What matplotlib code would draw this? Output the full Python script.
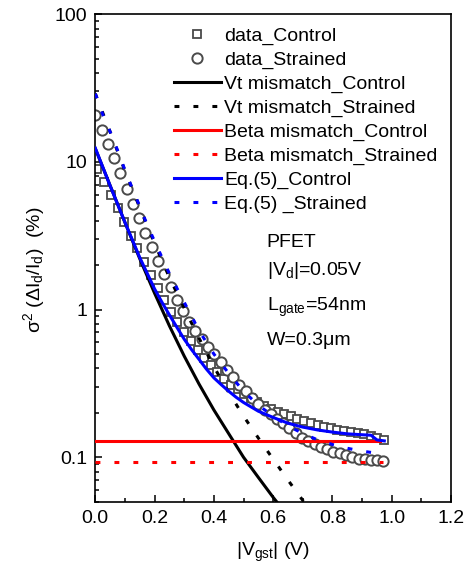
import matplotlib
matplotlib.use("Agg")
import matplotlib.pyplot as plt
from matplotlib.ticker import FixedLocator, FixedFormatter, LogLocator, NullFormatter, MultipleLocator

plt.rcParams['font.family'] = ['Liberation Sans', 'DejaVu Sans']
plt.rcParams['mathtext.fontset'] = 'custom'
plt.rcParams['mathtext.rm'] = 'Liberation Sans'
plt.rcParams['mathtext.it'] = 'Liberation Sans'

# ---------------- data ----------------
ctrl_v = [0.007, 0.030, 0.052, 0.075, 0.097, 0.120, 0.142, 0.165, 0.187, 0.210,
          0.232, 0.255, 0.277, 0.300, 0.322, 0.345, 0.367, 0.390, 0.412, 0.435,
          0.457, 0.480, 0.502, 0.525, 0.547, 0.570, 0.592, 0.615, 0.637, 0.660,
          0.682, 0.705, 0.727, 0.750, 0.772, 0.795, 0.817, 0.840, 0.862, 0.885,
          0.907, 0.930, 0.952, 0.975]
ctrl_data = [9.0, 7.3, 6.0, 4.9, 3.9, 3.15, 2.6, 2.1, 1.72, 1.40,
             1.17, 0.96, 0.82, 0.70, 0.61, 0.53, 0.47, 0.42, 0.375, 0.34,
             0.31, 0.29, 0.27, 0.25, 0.235, 0.222, 0.212, 0.203, 0.196, 0.189,
             0.182, 0.175, 0.170, 0.165, 0.161, 0.157, 0.154, 0.151, 0.149, 0.147,
             0.144, 0.140, 0.135, 0.131]

str_v = [0.000, 0.021, 0.042, 0.063, 0.084, 0.106, 0.127, 0.148, 0.169, 0.190,
         0.211, 0.232, 0.254, 0.275, 0.296, 0.317, 0.338, 0.359, 0.380, 0.402,
         0.423, 0.444, 0.465, 0.486, 0.507, 0.528, 0.550, 0.571, 0.592, 0.613,
         0.634, 0.655, 0.676, 0.698, 0.719, 0.740, 0.761, 0.782, 0.803, 0.824,
         0.846, 0.867, 0.888, 0.909, 0.930, 0.951, 0.972]
str_data = [20.8, 16.5, 13.2, 10.7, 8.4, 6.6, 5.2, 4.15, 3.3, 2.65,
            2.13, 1.75, 1.43, 1.17, 0.98, 0.83, 0.72, 0.63, 0.56, 0.50,
            0.44, 0.39, 0.35, 0.31, 0.28, 0.25, 0.23, 0.21, 0.195, 0.182,
            0.17, 0.158, 0.146, 0.135, 0.128, 0.122, 0.117, 0.113, 0.109, 0.106,
            0.103, 0.100, 0.098, 0.097, 0.096, 0.096, 0.094]

vt_ctrl_v = [0, 0.05, 0.1, 0.15, 0.2, 0.25, 0.3, 0.35, 0.4, 0.45, 0.5, 0.55, 0.6, 0.65]
vt_ctrl = [12.3, 6.92, 3.89, 2.21, 1.29, 0.776, 0.484, 0.313, 0.209, 0.1445, 0.100, 0.073, 0.0535, 0.040]

vt_str_v = [0, 0.05, 0.1, 0.15, 0.2, 0.25, 0.3, 0.35, 0.4, 0.45, 0.5, 0.55, 0.6, 0.65, 0.7, 0.72]
vt_str = [29, 16, 8.7, 4.9, 2.8, 1.65, 1.02, 0.64, 0.41, 0.275, 0.19, 0.135, 0.097, 0.07, 0.051, 0.045]

beta_ctrl_v = [0.0, 0.96]
beta_ctrl = [0.128, 0.128]
beta_str_v = [0.0, 0.97]
beta_str = [0.0925, 0.0925]

eq_ctrl_v = [0, 0.05, 0.1, 0.15, 0.2, 0.225, 0.25, 0.275, 0.3, 0.325, 0.35, 0.375, 0.4,
             0.425, 0.45, 0.475, 0.5, 0.55, 0.6, 0.65, 0.7, 0.75, 0.8, 0.85, 0.9,
             0.93, 0.95, 0.975]
eq_ctrl = [12.4, 6.9, 3.9, 2.25, 1.38, 1.12, 0.92, 0.76, 0.63, 0.535, 0.46, 0.395, 0.345,
           0.31, 0.28, 0.255, 0.235, 0.205, 0.186, 0.17, 0.16, 0.153, 0.148, 0.144, 0.142,
           0.141, 0.131, 0.129]

eq_str_v = [0, 0.025, 0.05, 0.075, 0.1, 0.125, 0.15, 0.175, 0.2, 0.25, 0.3, 0.35, 0.4,
            0.45, 0.5, 0.55, 0.6, 0.65, 0.7, 0.75, 0.8, 0.85, 0.9, 0.97]
eq_str = [29, 21.0, 16.0, 12.0, 8.8, 6.6, 5.0, 3.75, 2.9, 1.75, 1.12, 0.72, 0.50,
          0.37, 0.28, 0.225, 0.19, 0.163, 0.145, 0.131, 0.122, 0.115, 0.110, 0.105]

labels = ['data_Control', 'data_Strained', 'Vt mismatch_Control', 'Vt mismatch_Strained',
          'Beta mismatch_Control', 'Beta mismatch_Strained', 'Eq.(5)_Control', 'Eq.(5) _Strained']

xticks = [0.0, 0.2, 0.4, 0.6, 0.8, 1.0, 1.2]
xticklabels = ['0.0', '0.2', '0.4', '0.6', '0.8', '1.0', '1.2']
yticks = [0.1, 1, 10, 100]
yticklabels = ['0.1', '1', '10', '100']

# ---------------- figure ----------------
fig = plt.figure(figsize=(4.77, 5.71), dpi=100)
ax = fig.add_axes([0.1998, 0.1214, 0.7457, 0.8536])

mk_col = '#4a4a4a'
dot = (0, (1.6, 4.6))
lw = 2.2

ax.plot(ctrl_v, ctrl_data, linestyle='none', marker='s', ms=6.4, mfc='white',
        mec=mk_col, mew=1.3, label=labels[0], zorder=2)
ax.plot(str_v, str_data, linestyle='none', marker='o', ms=7.4, mfc='white',
        mec=mk_col, mew=1.4, label=labels[1], zorder=2.1)
ax.plot(vt_ctrl_v, vt_ctrl, color='black', lw=lw, label=labels[2], zorder=3)
ax.plot(vt_str_v, vt_str, color='black', lw=lw, linestyle=dot, label=labels[3], zorder=3)
ax.plot(beta_ctrl_v, beta_ctrl, color='#ff0000', lw=lw, label=labels[4], zorder=3)
ax.plot(beta_str_v, beta_str, color='#ff0000', lw=lw, linestyle=dot, label=labels[5], zorder=3)
ax.plot(eq_ctrl_v, eq_ctrl, color='#0000ff', lw=lw, label=labels[6], zorder=3)
ax.plot(eq_str_v, eq_str, color='#0000ff', lw=lw, linestyle=dot, label=labels[7], zorder=3)

ax.set_yscale('log')
ax.set_xlim(0, 1.2)
ax.set_ylim(0.05, 100)

ax.xaxis.set_major_locator(FixedLocator(xticks))
ax.xaxis.set_major_formatter(FixedFormatter(xticklabels))
ax.xaxis.set_minor_locator(MultipleLocator(0.1))
ax.yaxis.set_major_locator(FixedLocator(yticks))
ax.yaxis.set_major_formatter(FixedFormatter(yticklabels))
ax.yaxis.set_minor_locator(LogLocator(base=10, subs=[2, 3, 4, 5, 6, 7, 8, 9], numticks=20))
ax.yaxis.set_minor_formatter(NullFormatter())

ax.tick_params(which='both', direction='in', top=False, right=False, width=1.1,
               labelsize=14)
ax.tick_params(which='major', length=5)
ax.tick_params(which='minor', length=2.8)
ax.tick_params(axis='y', pad=6)
ax.tick_params(axis='x', pad=6)
for s in ax.spines.values():
    s.set_linewidth(1.2)

ax.set_xlabel(r'|V$_\mathregular{gst}$| (V)', fontsize=14)
ax.xaxis.set_label_coords(0.5, -0.08)
ax.set_ylabel(r'σ$^\mathregular{2}$ (ΔI$_\mathregular{d}$/I$_\mathregular{d}$)  (%)', fontsize=14)
ax.yaxis.set_label_coords(-0.135, 0.475)

leg = ax.legend(loc='upper left', bbox_to_anchor=(0.221, 0.973), frameon=False,
                fontsize=14, handlelength=2.4, handletextpad=0.2, labelspacing=0.32,
                borderpad=0, borderaxespad=0, numpoints=1)

tx = 0.482
ax.text(tx, 0.5226, 'PFET', transform=ax.transAxes, fontsize=14, va='baseline')
ax.text(tx, 0.4651, r'|V$_\mathregular{d}$|=0.05V', transform=ax.transAxes, fontsize=14, va='baseline')
ax.text(tx, 0.391, r'L$_\mathregular{gate}$=54nm', transform=ax.transAxes, fontsize=14, va='baseline')
ax.text(tx, 0.3215, 'W=0.3μm', transform=ax.transAxes, fontsize=14, va='baseline')

fig.savefig('out.png', dpi=100)
